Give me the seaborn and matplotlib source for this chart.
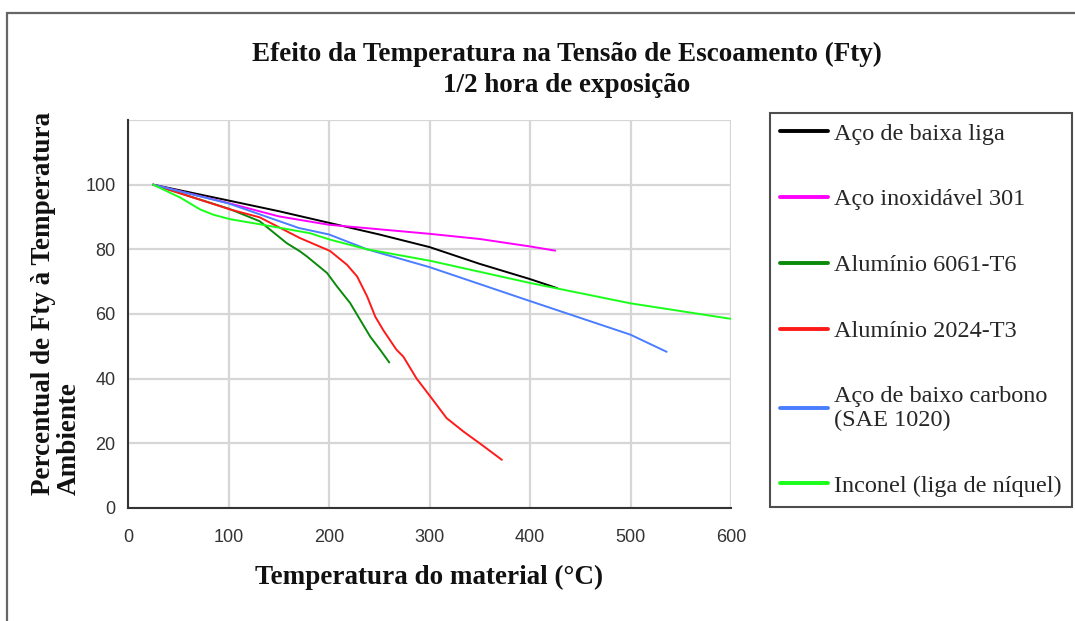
import matplotlib
matplotlib.use("Agg")
import matplotlib.pyplot as plt
from matplotlib.lines import Line2D
from matplotlib.patches import Rectangle
import numpy as np
import pandas as pd
import seaborn as sns

# Yield strength (Fty) retained after 1/2 hour at temperature, % of room-temperature value
baixa_liga_t = [25, 100, 150, 200, 250, 300, 350, 400, 427]
baixa_liga_v = [100, 95.1, 91.8, 88.2, 84.6, 80.7, 75.5, 70.8, 68]

inox_301_t = [25, 100, 150, 200, 250, 300, 350, 400, 425]
inox_301_v = [100, 94.3, 90.2, 87.6, 86.2, 84.8, 83.2, 80.9, 79.6]

al_6061_t = [25, 100, 131, 158, 171, 178, 198, 208, 221, 231, 241, 251, 260]
al_6061_v = [100, 92.6, 88.7, 81.9, 79.4, 77.8, 72.7, 68.5, 63.4, 58.2, 53, 48.9, 45]

al_2024_t = [25, 102, 131, 171, 201, 218, 228, 238, 246, 254, 267, 274, 287, 302, 317, 334, 350, 372]
al_2024_v = [100, 92.3, 89.9, 83.5, 79.5, 75.2, 71.6, 65.4, 59.2, 55, 49, 46.8, 40.1, 34, 27.8, 23.6, 20, 14.9]

sae_1020_t = [25, 100, 170, 200, 238, 300, 400, 500, 536]
sae_1020_v = [100, 94.2, 86.6, 84.6, 80, 74.5, 64, 53.6, 48.3]

inconel_t = [25, 52, 72, 85, 102, 134, 181, 201, 238, 300, 400, 500, 600]
inconel_v = [100, 96, 92.3, 90.7, 89.3, 87.6, 85, 83, 80, 76.5, 69.6, 63.3, 58.5]

materials = [
    "Aço de baixa liga",
    "Aço inoxidável 301",
    "Alumínio 6061-T6",
    "Alumínio 2024-T3",
    "Aço de baixo carbono\n(SAE 1020)",
    "Inconel (liga de níquel)",
]
series = [
    (baixa_liga_t, baixa_liga_v),
    (inox_301_t, inox_301_v),
    (al_6061_t, al_6061_v),
    (al_2024_t, al_2024_v),
    (sae_1020_t, sae_1020_v),
    (inconel_t, inconel_v),
]
colors = ["#000000", "#ff00ff", "#0a8a0a", "#ff1a1a", "#4a7dff", "#1aff1a"]

x_ticks = [0, 100, 200, 300, 400, 500, 600]
y_ticks = [0, 20, 40, 60, 80, 100, 120]
y_tick_labels = ["0", "20", "40", "60", "80", "100", ""]

frames = []
for name, (t, v) in zip(materials, series):
    frames.append(pd.DataFrame({"Temperatura": t, "Fty": v, "Material": name}))
df = pd.concat(frames, ignore_index=True)

sns.set_style("white")
plt.rcParams["font.family"] = ["Liberation Serif", "DejaVu Serif"]

fig = plt.figure(figsize=(10.75, 6.21), dpi=100)
ax = fig.add_axes([128 / 1075, 1 - 508 / 621, 603 / 1075, 388 / 621])

sns.lineplot(
    data=df, x="Temperatura", y="Fty", hue="Material",
    palette=dict(zip(materials, colors)), hue_order=materials,
    estimator=None, sort=False, linewidth=1.4, legend=False, ax=ax,
)

ax.set_xlim(0, 600)
ax.set_ylim(0, 120)
ax.set_xticks(x_ticks)
ax.set_yticks(y_ticks)
ax.set_yticklabels(y_tick_labels)
for lab in ax.get_xticklabels() + ax.get_yticklabels():
    lab.set_fontfamily(["Liberation Sans", "DejaVu Sans"])
    lab.set_fontsize(13)
    lab.set_color("#333333")

ax.grid(True, color="#d6d6d6", linewidth=1.6)
ax.set_axisbelow(True)
for side in ("top", "right"):
    ax.spines[side].set_visible(False)
for side in ("left", "bottom"):
    ax.spines[side].set_color("#333333")
    ax.spines[side].set_linewidth(1.5)
ax.tick_params(axis="both", direction="inout", length=8, width=1.3, color="#333333")
ax.tick_params(axis="x", pad=11)
ax.tick_params(axis="y", pad=5)

label_kw = dict(fontsize=19.5, fontweight="bold", color="#111111")
ax.set_xlabel("Temperatura do material (°C)", labelpad=14, **label_kw)
ax.set_ylabel("Percentual de Fty à Temperatura\nAmbiente",
              multialignment="left", linespacing=1.05, **label_kw)
ax.yaxis.set_label_coords(-0.077, 0.527)

fig.text(567 / 1075, 1 - 54 / 621, "Efeito da Temperatura na Tensão de Escoamento (Fty)",
         ha="center", va="center", **label_kw)
fig.text(567 / 1075, 1 - 85 / 621, "1/2 hora de exposição",
         ha="center", va="center", **label_kw)

handles = [Line2D([], [], color=c, linewidth=2.8) for c in colors]
leg = fig.legend(
    handles, materials, loc="upper left",
    bbox_to_anchor=(770 / 1075, 1 - 113 / 621),
    frameon=True, fancybox=False, shadow=False,
    prop={"family": ["Liberation Serif", "DejaVu Serif"], "size": 17.5},
    handlelength=2.0, handletextpad=0.25, labelspacing=1.8,
    borderpad=0.4, borderaxespad=0.0,
)
leg.get_frame().set_edgecolor("#222222")
leg.get_frame().set_linewidth(1.5)

# outer border around the chart area
fig.add_artist(Rectangle((6.5 / 1075, -0.1), 1.2, 1.1 - 12.5 / 621,
                         transform=fig.transFigure, fill=False,
                         edgecolor="#666666", linewidth=1.6))

fig.savefig("out.png", dpi=100)
